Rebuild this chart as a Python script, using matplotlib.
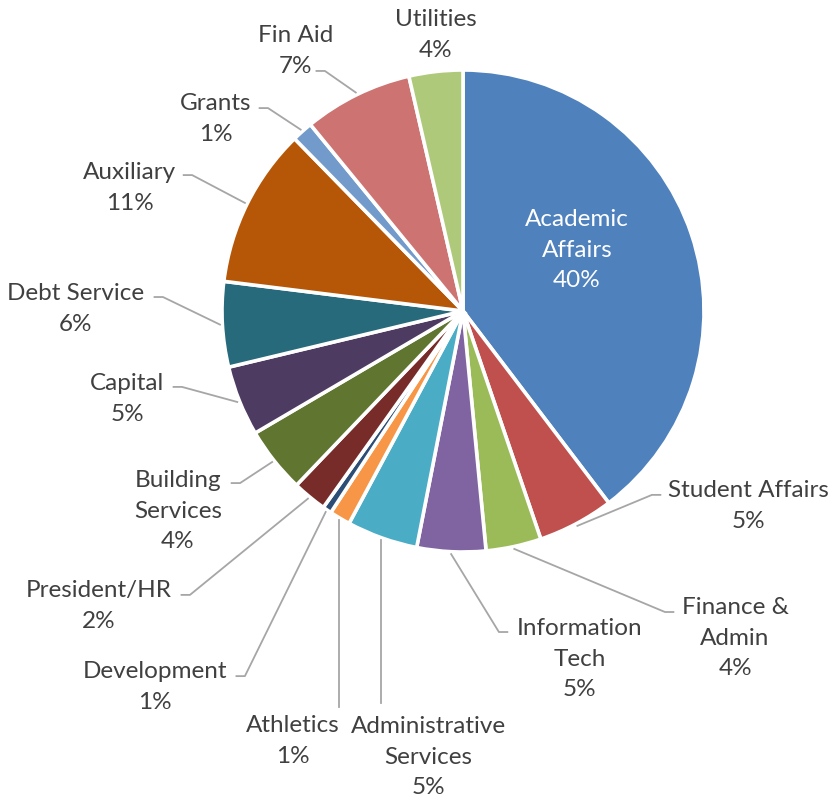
import numpy as np
import matplotlib.pyplot as plt

# budget share by division (percent), clockwise from 12 o'clock
divisions = ['Academic Affairs', 'Student Affairs', 'Finance & Admin', 'Information Tech',
             'Administrative Services', 'Athletics', 'Development', 'President/HR',
             'Building Services', 'Capital', 'Debt Service', 'Auxiliary', 'Grants',
             'Fin Aid', 'Utilities']
shares = [39.6, 5.1, 3.7, 4.6, 4.75, 1.4, 0.6, 2.3, 4.4, 4.7, 5.7, 10.7, 1.4, 7.3, 3.6]
label_text = ['Academic\nAffairs', 'Student Affairs', 'Finance &\nAdmin', 'Information\nTech',
              'Administrative\nServices', 'Athletics', 'Development', 'President/HR',
              'Building\nServices', 'Capital', 'Debt Service', 'Auxiliary', 'Grants',
              'Fin Aid', 'Utilities']
colors = ['#4F81BD', '#C0504D', '#9BBB59', '#8064A2', '#4BACC6', '#F79646', '#2C4D75',
          '#772C2A', '#5F7530', '#4D3B62', '#276A7C', '#B65708', '#729ACA', '#CD7371',
          '#AFC97A']

# label placement (pie radius = 1): text centre and leader elbow
text_pos = [(0.473, 0.253), (1.183, -0.809), (1.129, -1.357), (0.485, -1.444),
            (-0.145, -1.851), (-0.705, -1.784), (-1.278, -1.560), (-1.510, -1.224),
            (-1.183, -0.830), (-1.394, -0.365), (-1.606, 0.008), (-1.382, 0.510),
            (-1.025, 0.797), (-0.693, 1.079), (-0.112, 1.145)]
elbows = [None, (0.784, -0.763), (0.838, -1.249), (0.149, -1.332),
          ('v', -1.627), ('v', -1.643), (-0.905, -1.515), (-1.133, -1.178),
          (-0.925, -0.714), (-1.166, -0.315), (-1.245, 0.058), (-1.124, 0.564),
          (-0.809, 0.842), (-0.573, 0.996), None]

plt.rcParams['font.family'] = ['Lato', 'DejaVu Sans']

fig = plt.figure(figsize=(8.3, 8.01), dpi=100)
ax = fig.add_axes([0, 0, 1, 1])

wedges, _ = ax.pie(shares, colors=colors, startangle=90, counterclock=False,
                   radius=1.0, wedgeprops=dict(edgecolor='white', linewidth=2.6))

ax.set_xlim(-463 / 241, (830 - 463) / 241)
ax.set_ylim(-(801 - 311) / 241, 311 / 241)
ax.set_aspect('auto')
ax.axis('off')

text_color = '#404040'
line_color = '#A6A6A6'
fsize = 17.5
lspace = 1.56

for i, w in enumerate(wedges):
    pct = '{:.0f}%'.format(shares[i])
    tx, ty = text_pos[i]
    col = 'white' if i == 0 else text_color
    ax.text(tx, ty, label_text[i] + '\n' + pct, ha='center', va='center',
            fontsize=fsize, color=col, linespacing=lspace)
    el = elbows[i]
    if el is None:
        continue
    mid = np.deg2rad((w.theta1 + w.theta2) / 2)
    sx, sy = 1.01 * np.cos(mid), 1.01 * np.sin(mid)
    if el[0] == 'v':
        ax.plot([sx, sx], [sy, el[1]], color=line_color, lw=1.3)
    else:
        ex, ey = el
        hx = ex - 0.035 if ex < sx else ex + 0.035
        ax.plot([sx, ex, hx], [sy, ey, ey], color=line_color, lw=1.3)

plt.savefig('out.png', dpi=100)
